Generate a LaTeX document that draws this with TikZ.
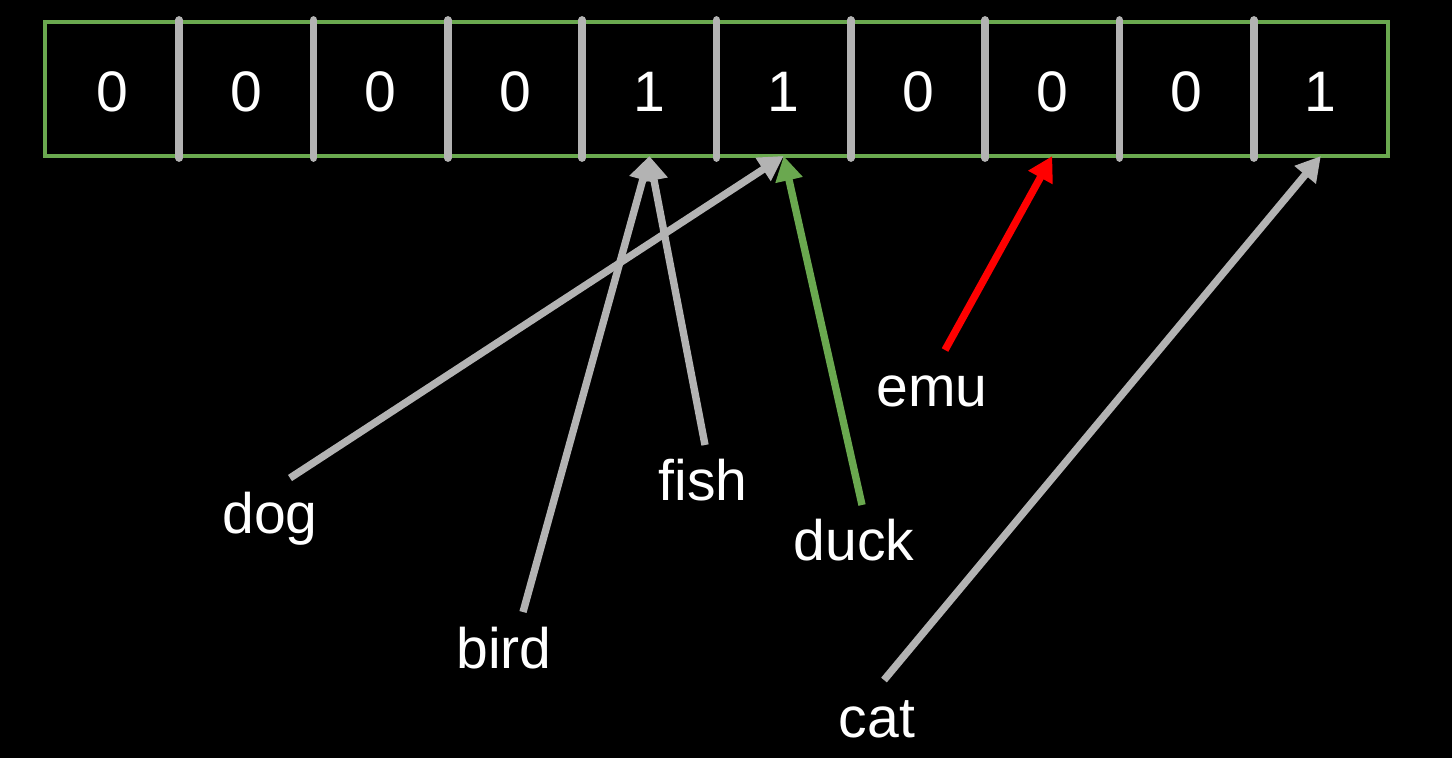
\documentclass[tikz,border=0pt]{standalone}
\usepackage{fontspec}
\setmainfont{Liberation Sans}
\usetikzlibrary{arrows.meta}
\definecolor{vertBord}{HTML}{6AA84F}
\definecolor{grisTrait}{HTML}{B3B3B3}
\definecolor{rougeEmu}{HTML}{FF0000}
\tikzset{
	cellule/.style={minimum width=2.686cm,minimum height=2.68cm,inner sep=0pt,text=white},
	mot/.style={anchor=base,text=white,inner sep=0pt},
	fleche/.style={line width=4.2pt,-{Triangle[length=14pt,width=15pt]}}
}

\begin{document}
\begin{tikzpicture}[x=0.02cm,y=-0.02cm,font=\fontsize{32.5}{38}\selectfont]
	\def\gauche{45};
	\def\pas{134.3};
	\def\haut{22};
	\def\bas{156};
	\fill[black] (0,0) rectangle (1452,758);
	\useasboundingbox (0,0) rectangle (1452,758);
	
	%Cases du tableau
	\foreach \v [count=\i] in {0,0,0,0,1,1,0,0,0,1}{
		\node[cellule] (c\i) at ({\gauche+(\i-0.5)*\pas},{(\haut+\bas)/2+3}) {\v};
	}
	\draw[vertBord,line width=2.4pt] (\gauche,\haut) rectangle ({\gauche+10*\pas},\bas);
	\foreach \i in {1,...,9}{
		\draw[grisTrait,line width=4.4pt,line cap=round] ({\gauche+\i*\pas},\haut-2) -- ({\gauche+\i*\pas},\bas+2);
	}
	
	%Mots
	\node[mot] (dog) at (270,533) {dog};
	\node[mot] (bird) at (504,668) {bird};
	\node[mot] (fish) at (703,500) {fish};
	\node[mot] (duck) at (854,560) {duck};
	\node[mot] (emu) at (932,406) {emu};
	\node[mot] (cat) at (877,737) {cat};
	
	%Departs des fleches
	\coordinate (dogT) at (290,478);
	\coordinate (birdT) at (523,612);
	\coordinate (fishT) at (705,445);
	\coordinate (duckT) at (862,505);
	\coordinate (emuT) at (945,350);
	\coordinate (catT) at (884,680);
	
	%Fleches
	\draw[fleche,grisTrait] (dogT) -- (c6.south |- 0,\bas);
	\draw[fleche,grisTrait] (birdT) -- (c5.south |- 0,\bas);
	\draw[fleche,grisTrait] (fishT) -- (c5.south |- 0,\bas);
	\draw[fleche,vertBord] (duckT) -- (c6.south |- 0,\bas);
	\draw[fleche,rougeEmu] (emuT) -- (c8.south |- 0,\bas);
	\draw[fleche,grisTrait] (catT) -- (c10.south |- 0,\bas);
	
\end{tikzpicture}
\end{document}
